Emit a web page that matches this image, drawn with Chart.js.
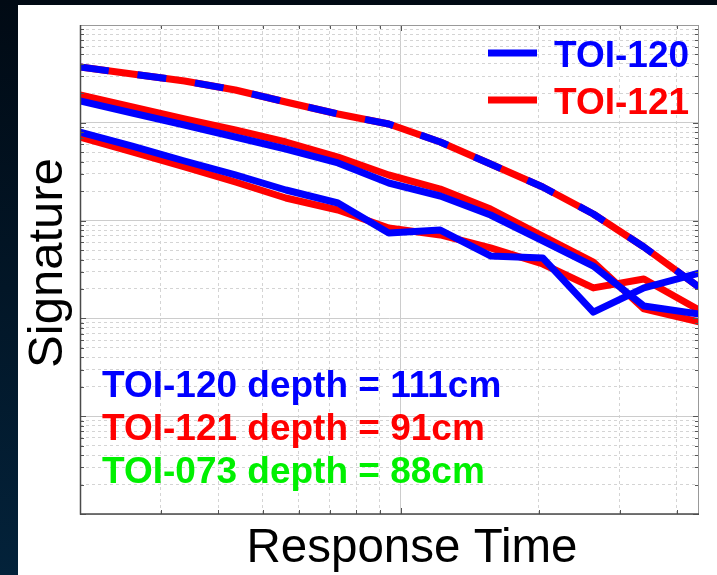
<!DOCTYPE html>
<html>
<head>
<meta charset="utf-8">
<script src="https://cdn.jsdelivr.net/npm/chart.js@4/dist/chart.umd.min.js"></script>
<style>
  html, body { margin: 0; padding: 0; }
  body {
    width: 717px; height: 575px; overflow: hidden; position: relative;
    background: linear-gradient(to bottom, #010a14, #03223a);
  }
  #panel { position: absolute; left: 18px; top: 5px; width: 699px; height: 570px; background: #fff; }
  #chart { position: absolute; left: 0; top: 0; }
</style>
</head>
<body>
<div id="panel"></div>
<canvas id="chart" width="717" height="575"></canvas>
<script>
// response time samples (log axis, arbitrary units)
const responseTime = [2.0, 2.6, 3.38, 4.36, 5.62, 7.3, 9.42, 12.2, 15.7, 20.4, 26.3, 33.9, 44.7];

// TOI-120 (blue) and TOI-121 (red) decay curves
const toi120Upper = [16710, 12600, 9495, 7160, 5396, 3882, 2424, 1784, 1141, 619, 343, 134, 111];
const toi121Upper = [19250, 14510, 10940, 8440, 6364, 4470, 2926, 2104, 1314, 696, 377, 125, 92];
const toi120Lower = [8050, 5790, 4068, 2926, 2056, 1514, 747, 801, 435, 415, 116, 205, 291];
const toi121Lower = [7160, 5028, 3533, 2481, 1702, 1283, 840, 713, 525, 360, 205, 253, 122];
// shared model curve (dashed)
const modelCurve = [37200, 31550, 26760, 21650, 16320, 12300, 9720, 6364, 3790, 2206, 1168, 537, 209];

const legendItems = [
  { label: 'TOI-120', color: '#0000ff' },
  { label: 'TOI-121', color: '#ff0000' }
];
const depthNotes = [
  { text: 'TOI-120 depth = 111cm', color: '#0000ff' },
  { text: 'TOI-121 depth = 91cm', color: '#ff0000' },
  { text: 'TOI-073 depth = 88cm', color: '#00f000' }
];

const FONT = '"Liberation Sans", Arial, sans-serif';
const BLUE = '#0000ff', RED = '#ff0000';

function points(values) {
  return values.map((v, i) => ({ x: responseTime[i], y: v }));
}

function line(values, color, dash) {
  return {
    data: points(values),
    borderColor: color,
    borderWidth: 7,
    borderDash: dash || [],
    borderJoinStyle: 'round',
    pointRadius: 0,
    tension: 0,
    fill: false
  };
}

// keep only 1..9 x 10^n grid lines (drop chart.js' 15, 150 ...)
function wholeSteps(scale) {
  scale.ticks = scale.ticks.filter(t => {
    const s = t.value / Math.pow(10, Math.floor(Math.log10(t.value) + 1e-9));
    return Math.abs(s - Math.round(s)) < 1e-6;
  });
}

const gridOpts = {
  drawTicks: false,
  color: ctx => (ctx.tick && ctx.tick.major) ? '#cccccc' : '#d4d4d4',
  lineWidth: 1
};
const borderOpts = {
  display: false,
  dash: ctx => (ctx.tick && ctx.tick.major) ? [] : [3, 3]
};

const frame = {
  id: 'frame',
  afterDatasetsDraw(chart) {
    const { ctx, chartArea: a, scales } = chart;
    ctx.save();
    ctx.strokeStyle = '#555';
    ctx.lineWidth = 1;
    // inner tick marks
    ctx.beginPath();
    scales.y.ticks.forEach(t => {
      const py = Math.round(scales.y.getPixelForValue(t.value)) + 0.5;
      const len = t.major ? 6 : 4;
      ctx.moveTo(a.left, py); ctx.lineTo(a.left + len, py);
      ctx.moveTo(a.right, py); ctx.lineTo(a.right - len, py);
    });
    scales.x.ticks.forEach(t => {
      const px = Math.round(scales.x.getPixelForValue(t.value)) + 0.5;
      const len = t.major ? 6 : 4;
      ctx.moveTo(px, a.top); ctx.lineTo(px, a.top + len);
      ctx.moveTo(px, a.bottom); ctx.lineTo(px, a.bottom - len);
    });
    ctx.stroke();
    // box: top/right lighter
    ctx.strokeStyle = '#999';
    ctx.beginPath();
    ctx.moveTo(a.left, a.top + 0.5); ctx.lineTo(a.right, a.top + 0.5);
    ctx.moveTo(a.right - 0.5, a.top); ctx.lineTo(a.right - 0.5, a.bottom);
    ctx.stroke();
    ctx.strokeStyle = '#4a4a4a';
    ctx.lineWidth = 1.5;
    ctx.beginPath();
    ctx.moveTo(a.left + 0.5, a.top); ctx.lineTo(a.left + 0.5, a.bottom);
    ctx.lineTo(a.right, a.bottom);
    ctx.stroke();
    ctx.restore();
  },
  afterDraw(chart) {
    const { ctx, chartArea: a } = chart;
    ctx.save();
    // legend
    ctx.font = 'bold 37px ' + FONT;
    ctx.textBaseline = 'alphabetic';
    legendItems.forEach((item, i) => {
      const cy = a.top + 28 + i * 47;
      ctx.strokeStyle = item.color;
      ctx.lineWidth = 7;
      ctx.beginPath();
      ctx.moveTo(a.left + 408, cy); ctx.lineTo(a.left + 457, cy);
      ctx.stroke();
      ctx.fillStyle = item.color;
      ctx.fillText(item.label, a.left + 474, cy + 14);
    });
    // depth notes
    depthNotes.forEach((n, i) => {
      ctx.fillStyle = n.color;
      ctx.fillText(n.text, a.left + 22, a.top + 372 + i * 43);
    });
    // axis titles
    ctx.fillStyle = '#000';
    ctx.font = '47.5px ' + FONT;
    ctx.textAlign = 'center';
    ctx.fillText('Response Time', 412, 562);
    ctx.translate(62, 263);
    ctx.rotate(-Math.PI / 2);
    ctx.font = '49px ' + FONT;
    ctx.fillText('Signature', 0, 0);
    ctx.restore();
  }
};

new Chart(document.getElementById('chart'), {
  type: 'line',
  data: {
    datasets: [
      line(toi120Upper, BLUE),
      line(toi120Lower, BLUE),
      line(modelCurve, BLUE, [29, 29]),
      line(toi121Upper, RED),
      line(toi121Lower, RED),
      line(modelCurve, RED)
    ]
  },
  options: {
    responsive: false,
    animation: false,
    devicePixelRatio: 1,
    layout: { padding: { left: 80, top: 25, right: 18, bottom: 61 } },
    plugins: { legend: { display: false }, tooltip: { enabled: false } },
    scales: {
      x: {
        type: 'logarithmic', min: 2, max: 44.7,
        ticks: { display: false },
        afterBuildTicks: wholeSteps,
        grid: gridOpts, border: borderOpts
      },
      y: {
        type: 'logarithmic', min: 1, max: 100000,
        ticks: { display: false },
        afterBuildTicks: wholeSteps,
        grid: gridOpts, border: borderOpts
      }
    }
  },
  plugins: [frame]
});
</script>
</body>
</html>
